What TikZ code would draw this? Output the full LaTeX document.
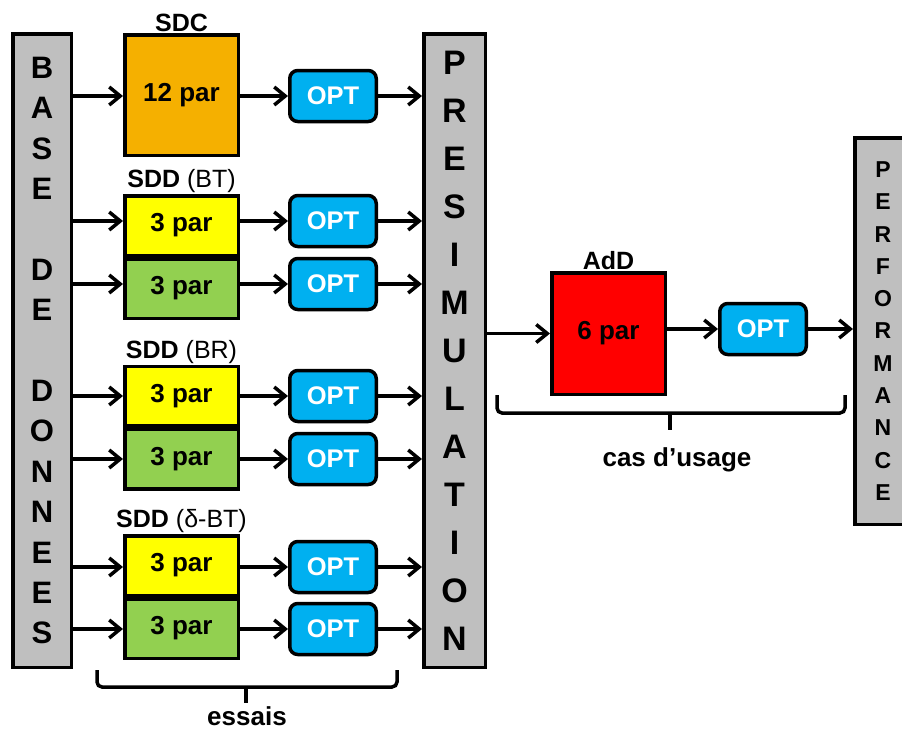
\documentclass[tikz,border=0pt]{standalone}
\usepackage{fontspec}
\setmainfont{Liberation Sans}
\usetikzlibrary{arrows.meta,positioning}

\definecolor{gris}{HTML}{BFBFBF}
\definecolor{sdcorange}{HTML}{F5B000}
\definecolor{sddjaune}{HTML}{FFFF00}
\definecolor{sddvert}{HTML}{92D050}
\definecolor{optbleu}{HTML}{00B0F0}
\definecolor{addrouge}{HTML}{FF0000}

\tikzstyle{colonne}=[draw, line width=3.5pt, fill=gris, align=center, inner sep=0pt]
\tikzstyle{bloc}=[draw, line width=3.5pt, minimum width=113.5pt, inner sep=0pt,
    font=\fontsize{26}{30}\selectfont\bfseries]
\tikzstyle{optbox}=[draw, line width=3.5pt, rounded corners=8pt, fill=optbleu, text=white,
    minimum width=86.5pt, minimum height=51pt, inner sep=0pt,
    font=\fontsize{25.5}{30}\selectfont\bfseries]
\tikzstyle{titre}=[font=\fontsize{25}{30}\selectfont, inner sep=1pt]
\tikzstyle{legende}=[font=\fontsize{26}{30}\selectfont\bfseries, inner sep=0pt]
\tikzstyle{fleche}=[draw, line width=3.5pt, -{Straight Barb[length=11pt,width=18pt]}]
\tikzstyle{accolade}=[draw, line width=3.5pt, rounded corners=5pt]

\begin{document}
\begin{tikzpicture}[x=1pt, y=-1pt]
  \useasboundingbox (0,0) rectangle (902,729);

  % colonnes
  \node[colonne, minimum width=58.5pt, minimum height=633.5pt,
        font=\fontsize{31}{40.4}\selectfont\bfseries] (bdd) at (42,350.5)
        {B\\A\\S\\E\\~\\D\\E\\~\\D\\O\\N\\N\\E\\E\\S};
  \node[colonne, minimum width=61.5pt, minimum height=633.5pt,
        font=\fontsize{34}{48}\selectfont\bfseries] (presim) at (454.5,350.5)
        {P\\R\\E\\S\\I\\M\\U\\L\\A\\T\\I\\O\\N};
  \node[colonne, minimum width=56.5pt, minimum height=386.5pt,
        font=\fontsize{23}{32.3}\selectfont\bfseries] (perf) at (883,331)
        {P\\E\\R\\F\\O\\R\\M\\A\\N\\C\\E};

  % essais
  \node[bloc, fill=sdcorange, minimum height=120.5pt] (sdc) at (181.5,95) {12 par};
  \node[titre, above=0pt of sdc] (tsdc) {\textbf{SDC}};
  \foreach \n/\y/\t in {1/225.5/BT, 2/396/BR, 3/565.5/δ-BT}{
    \node[bloc, fill=sddjaune, minimum height=59.5pt] (j\n) at (181.5,\y) {3 par};
    \node[bloc, fill=sddvert, minimum height=59.5pt, below=0pt of j\n] (v\n) {3 par};
    \node[titre, above=0pt of j\n] (t\n) {\textbf{SDD} (\t)};
  }
  \foreach \o/\y in {o0/96, oj1/221, ov1/284, oj2/396, ov2/459, oj3/567, ov3/629}
    \node[optbox] (\o) at (333,\y) {OPT};

  \foreach \b/\o in {sdc/o0, j1/oj1, v1/ov1, j2/oj2, v2/ov2, j3/oj3, v3/ov3}{
    \draw[fleche] (bdd.east |- \o.west) -- (\b.west |- \o.west);
    \draw[fleche] (\b.east |- \o.west) -- (\o.west);
    \draw[fleche] (\o.east) -- (presim.west |- \o.east);
  }

  % cas d'usage
  \node[bloc, fill=addrouge, minimum height=121.5pt] (add) at (608.5,333.5) {6 par};
  \node[titre, above=0pt of add] (tadd) {\textbf{AdD}};
  \node[optbox] (oc) at (763,329) {OPT};
  \draw[fleche] (presim.east |- add.west) -- (add.west);
  \draw[fleche] (add.east |- oc.west) -- (oc.west);
  \draw[fleche] (oc.east) -- (perf.west |- oc.east);

  % accolades
  \draw[accolade] (97,670) |- (397,687) -- (397,670);
  \draw[accolade] (246,687) -- (246,703);
  \node[legende] (essais) at (247,716) {essais};
  \draw[accolade] (497,395) |- (845,413) -- (845,395);
  \draw[accolade] (670,413) -- (670,430);
  \node[legende] (cas) at (677,460) {cas d’usage};
\end{tikzpicture}
\end{document}
